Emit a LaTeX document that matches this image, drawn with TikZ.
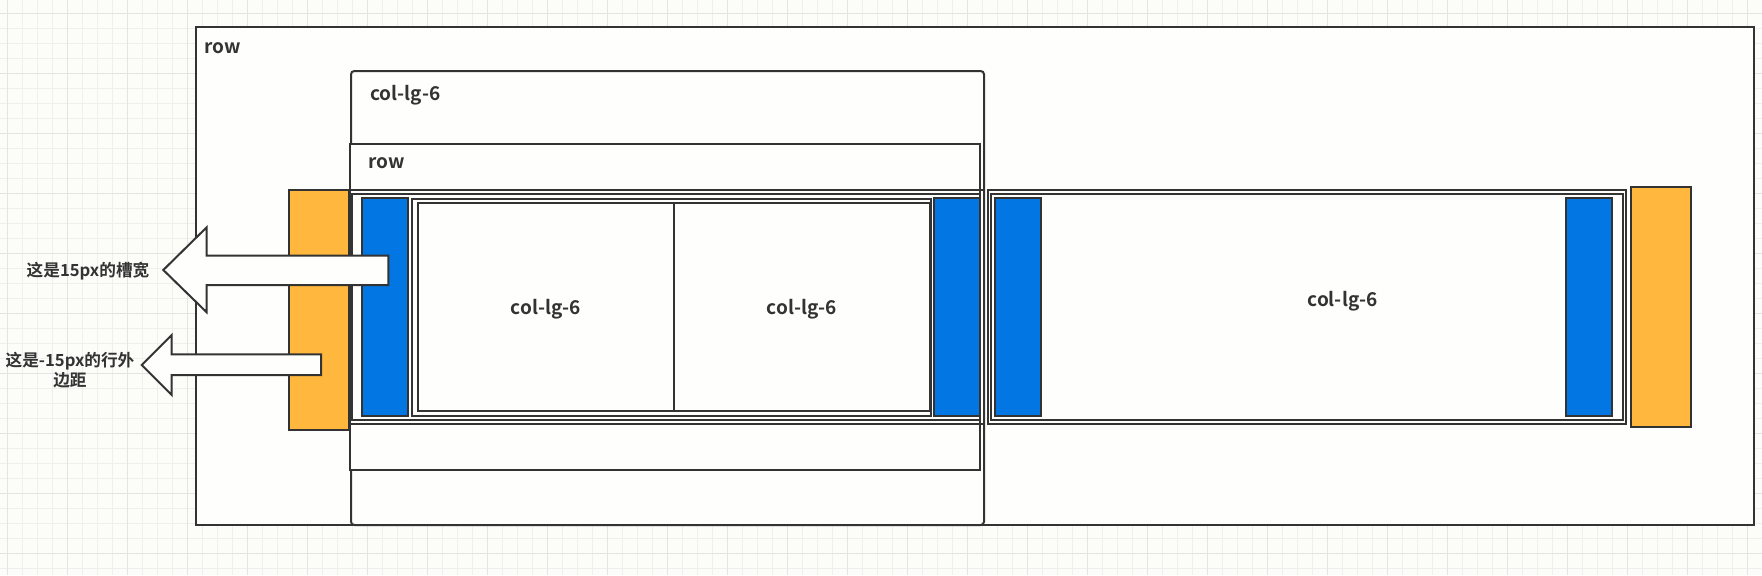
\documentclass[tikz,border=0pt]{standalone}
\usepackage{fontspec}
\newfontfamily\cjk{Noto Sans CJK SC}[BoldFont={Noto Sans CJK SC Bold}]
\definecolor{bgc}{HTML}{FCFCF8}
\definecolor{gminor}{HTML}{EFEFEE}
\definecolor{gmajor}{HTML}{E4E4E4}
\definecolor{ink}{HTML}{333333}
\definecolor{boxfill}{HTML}{FEFEFC}
\definecolor{blueb}{HTML}{0277E3}
\definecolor{orangeb}{HTML}{FFB73E}
\tikzset{
  box/.style={draw=ink, line width=1.5pt, fill=boxfill},
  thinbox/.style={draw=ink, line width=1.5pt},
  gutter/.style={draw=ink, line width=1.5pt, fill=blueb},
  margin/.style={draw=ink, line width=1.5pt, fill=orangeb},
  blockarrow/.style={draw=ink, line width=1.5pt, fill=boxfill, line join=miter},
  lbl/.style={text=ink, font=\cjk\bfseries\fontsize{14.3pt}{17pt}\selectfont, inner sep=0pt},
  cjklbl/.style={text=ink, font=\cjk\bfseries\fontsize{12.5pt}{15pt}\selectfont, inner sep=0pt, align=center},
}
\begin{document}
\begin{tikzpicture}[x=0.75pt,y=-0.75pt]
\useasboundingbox (0,0) rectangle (1762,575);
\fill[bgc] (0,0) rectangle (1762,575);
% grid
\foreach \gx in {7.7,22.7,...,1762} \draw[gminor, line width=0.75pt] (\gx,0) -- (\gx,575);
\foreach \gy in {13.3,28.3,...,575} \draw[gminor, line width=0.75pt] (0,\gy) -- (1762,\gy);
\foreach \gx in {7.7,67.7,...,1762} \draw[gmajor, line width=0.75pt] (\gx,0) -- (\gx,575);
\foreach \gy in {13.3,73.3,...,575} \draw[gmajor, line width=0.75pt] (0,\gy) -- (1762,\gy);

% outer row
\draw[box] (196,27) rectangle (1754,525);
\node[lbl, anchor=west] (outerrow) at (204,48.3) {row};
% left col-lg-6
\draw[box, rounded corners=2.5pt] (351,71) rectangle (984,525);
\node[lbl, anchor=west] (colA) at (370,95.7) {col-lg-6};
% nested row
\draw[box] (350,144) rectangle (980,470);
\node[lbl, anchor=west] (innerrow) at (368,163) {row};
% double frames (row content)
\draw[thinbox] (349.5,190) rectangle (983.5,424);
\draw[thinbox] (352,194) rectangle (980,420);
\draw[box] (987.5,190) rectangle (1626,424);
\draw[thinbox] (991,194) rectangle (1622.5,420);
% nested col cells
\draw[thinbox] (411.5,198.5) rectangle (930.5,415.5);
\draw[thinbox] (417.5,203) rectangle (674,410.7);
\draw[thinbox] (674,203) rectangle (930,410.7);
\node[lbl] (cellA) at (546,309) {col-lg-6};
\node[lbl] (cellB) at (802,309) {col-lg-6};
\node[lbl] (cellC) at (1342.6,301.7) {col-lg-6};
% gutters (blue)
\draw[gutter] (362,198) rectangle (408,416);
\draw[gutter] (934,198) rectangle (980,416);
\draw[gutter] (995,198) rectangle (1041,416);
\draw[gutter] (1566,198) rectangle (1612,416);
% negative margins (orange)
\draw[margin] (289,190) rectangle (349,430);
\draw[margin] (1631,187) rectangle (1691,427);
% block arrows
\draw[blockarrow] (163.3,270) -- (206.7,227.3) -- (206.7,255.7) -- (388.3,255.7)
  -- (388.3,285) -- (206.7,285) -- (206.7,312.3) -- cycle;
\draw[blockarrow] (141.7,365) -- (171.7,335) -- (171.7,354.3) -- (321,354.3)
  -- (321,375) -- (171.7,375) -- (171.7,395) -- cycle;
\node[cjklbl] (gutterlbl) at (88,270.7) {这是15px的槽宽};
\node[cjklbl] (marginlbl) at (70,370) {这是-15px的行外\\边距};
\end{tikzpicture}
\end{document}
